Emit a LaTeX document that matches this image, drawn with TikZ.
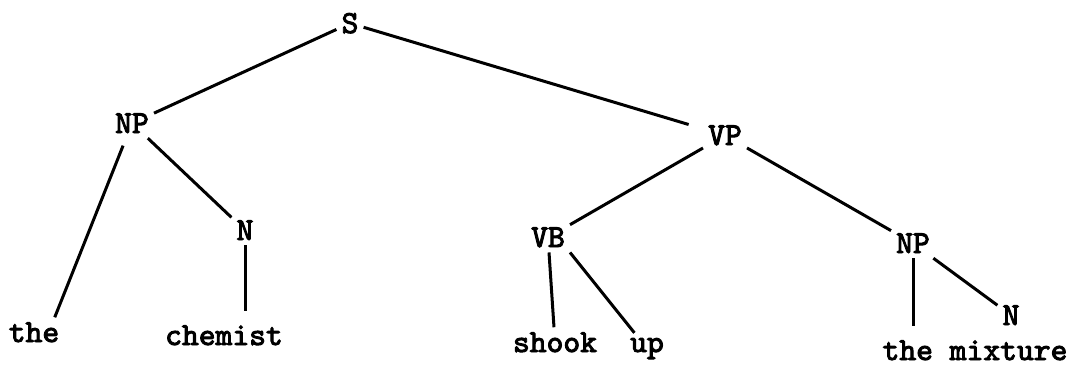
\documentclass[tikz,border=0pt]{standalone}
\usepackage{fontspec}
\usepackage{tikz}
\newfontfamily\treefont{lmmono10-regular.otf}[AutoFakeBold=3]
\tikzset{
  cat/.style={font=\treefont\bfseries\fontsize{32}{32}\selectfont, inner sep=5pt, anchor=base},
  branch/.style={line width=3pt},
}

\begin{document}
\begin{tikzpicture}[x=1pt, y=-1pt]
  \useasboundingbox (0,0) rectangle (1079,365);

  % categories
  \node[cat] (S)   at (350,33)  {S};
  \node[cat] (NPa) at (132,133) {NP};
  \node[cat] (VP)  at (725,145) {VP};
  \node[cat] (Na)  at (245,240) {N};
  \node[cat] (VB)  at (548,247) {VB};
  \node[cat] (NPb) at (913,253) {NP};
  \node[cat] (Nb)  at (1011,325) {N};

  % words
  \node[cat] (the)   at (34,342)  {the};
  \node[cat] (chem)  at (224,345) {chemist};
  \node[cat] (shook) at (555,352) {shook};
  \node[cat] (up)    at (647,352) {up};
  \node[cat] (mix)   at (975,360) {the mixture};

  % branches
  \draw[branch] (S) -- (NPa);
  \draw[branch, shorten >=15pt] (S) -- (VP);
  \draw[branch, shorten <=8pt] (NPa) -- (the.36); % NP -> the
  \draw[branch] (NPa) -- (Na);
  \draw[branch, shorten >=9pt] (Na) -- (Na |- chem.north);
  \draw[branch] (VP) -- (VB);
  \draw[branch] (VP) -- (NPb);
  \draw[branch] (VB) -- (shook);
  \draw[branch] (VB.south east) -- (up);
  \draw[branch, shorten >=9pt] (NPb) -- (NPb |- mix.north); % NP -> the mixture
  \draw[branch] (NPb) -- (Nb);

\end{tikzpicture}
\end{document}
